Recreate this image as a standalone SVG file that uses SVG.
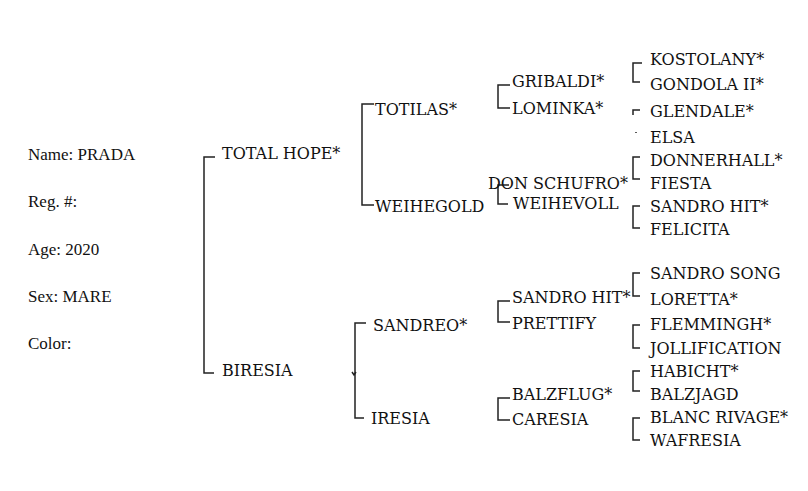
<svg xmlns="http://www.w3.org/2000/svg" width="808" height="491" viewBox="0 0 808 491">
<style>
text{font-family:"DejaVu Serif",serif;font-size:16px;fill:#111}
.l{font-family:"Liberation Serif",serif;font-size:17px}
.c path{fill:none;stroke:#222;stroke-width:1.5}
</style>
<rect width="808" height="491" fill="#fff"/>
<g id="info" class="l">
<text class="l" x="28" y="160">Name: PRADA</text>
<text class="l" x="28" y="207">Reg. #:</text>
<text class="l" x="28" y="255">Age:  2020</text>
<text class="l" x="28" y="302">Sex: MARE</text>
<text class="l" x="28" y="349">Color:</text>
</g>
<g class="c" id="connectors">
<path d="M215 157H204V373H214"/>
<path d="M374 104H362V205H374"/>
<path d="M366 323H355V418H364"/>
<path d="M352 372l2 3l2-3"/>
<path d="M510 85H498V108H510"/>
<path d="M509 185H498V204H508"/>
<path d="M510 301H498V322H510"/>
<path d="M510 398H498V420H510"/>
<path d="M642 63H633V82H640"/>
<path d="M640 110H633V115"/>
<path d="M636 132v1"/>
<path d="M640 157H633V179H640"/>
<path d="M640 206H633V228H640"/>
<path d="M640 273H633V296H640"/>
<path d="M640 325H633V348H640"/>
<path d="M640 371H633V391H640"/>
<path d="M640 418H633V440H640"/>
</g>
<g id="g1"><text x="222" y="159">TOTAL HOPE*</text><text x="222" y="376">BIRESIA</text></g>
<g id="g2"><text x="375" y="115">TOTILAS*</text><text x="375" y="212">WEIHEGOLD</text><text x="373" y="331">SANDREO*</text><text x="371" y="424">IRESIA</text></g>
<g id="g3"><text x="512" y="87">GRIBALDI*</text><text x="512" y="114">LOMINKA*</text><text x="488" y="189">DON SCHUFRO*</text><text x="513" y="209">WEIHEVOLL</text><text x="512" y="303">SANDRO HIT*</text><text x="512" y="329">PRETTIFY</text><text x="512" y="400">BALZFLUG*</text><text x="512" y="425">CARESIA</text></g>
<g id="g4">
<text x="650" y="65">KOSTOLANY*</text><text x="650" y="90">GONDOLA II*</text><text x="650" y="117">GLENDALE*</text><text x="650" y="143">ELSA</text>
<text x="650" y="166">DONNERHALL*</text><text x="650" y="189">FIESTA</text><text x="650" y="212">SANDRO HIT*</text><text x="650" y="235">FELICITA</text>
<text x="650" y="279">SANDRO SONG</text><text x="650" y="305">LORETTA*</text><text x="650" y="330">FLEMMINGH*</text><text x="650" y="354">JOLLIFICATION</text>
<text x="650" y="377">HABICHT*</text><text x="650" y="400">BALZJAGD</text><text x="650" y="423">BLANC RIVAGE*</text><text x="650" y="446">WAFRESIA</text>
</g>
</svg>
